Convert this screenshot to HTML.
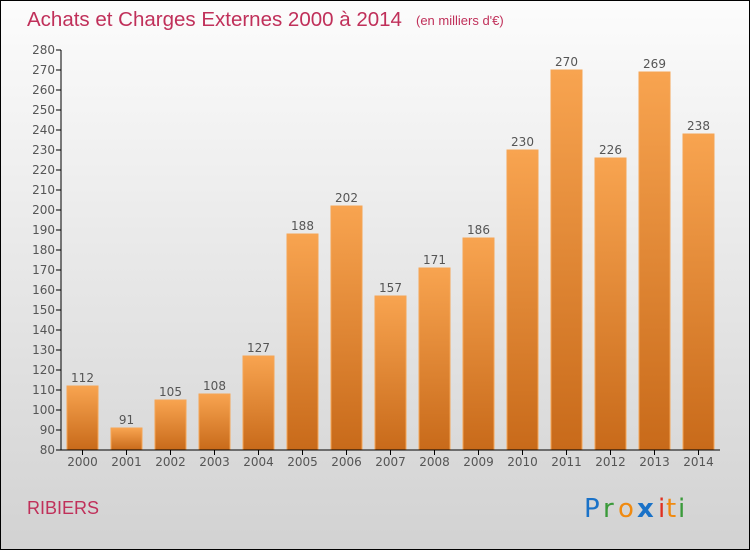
<!DOCTYPE html>
<html><head><meta charset="utf-8"><style>
html,body{margin:0;padding:0}
body{width:750px;height:550px;overflow:hidden;font-family:"DejaVu Sans","Liberation Sans",sans-serif}
#wrap{position:relative;width:748px;height:548px;border:1px solid #000;background:linear-gradient(#fcfcfc,#d2d2d2)}
</style></head><body>
<div id="wrap">
<svg width="748" height="548" viewBox="1 1 748 548" style="position:absolute;left:0;top:0">
<defs><linearGradient id="bg" x1="0" y1="0" x2="0" y2="1"><stop offset="0" stop-color="#f8a450"/><stop offset="1" stop-color="#c86a1a"/></linearGradient></defs>
<text x="27" y="26" font-size="20.5" fill="#c0305a" font-family="Liberation Sans, sans-serif">Achats et Charges Externes 2000 à 2014</text>
<text x="416" y="25" font-size="13" fill="#c0305a" font-family="Liberation Sans, sans-serif">(en milliers d'€)</text>
<g id="plot"></g>
<text x="27" y="514" font-size="18" fill="#c0305a" font-family="Liberation Sans, sans-serif">RIBIERS</text>
<g font-family="DejaVu Sans, sans-serif" font-size="26">
<text x="584" y="517" fill="#1a72c8">P</text><text x="603" y="517" fill="#3a9a3a">r</text><text x="618" y="517" fill="#f08a10">o</text><text x="637" y="517" fill="#1a72c8" font-weight="bold">x</text><text x="658" y="517" fill="#e03020">i</text><text x="666" y="517" fill="#f08a10">t</text><text x="678" y="517" fill="#3a9a3a">i</text>
</g>
</svg>
</div>
<script>
const years=["2000","2001","2002","2003","2004","2005","2006","2007","2008","2009","2010","2011","2012","2013","2014"];
const values=[112,91,105,108,127,188,202,157,171,186,230,270,226,269,238];
const ticks=[80,90,100,110,120,130,140,150,160,170,180,190,200,210,220,230,240,250,260,270,280];
const NS="http://www.w3.org/2000/svg";
const g=document.getElementById('plot');
const y=v=>450-(v-80)*2;
const x=i=>82.5+i*44;
function mk(t,a,txt){const e=document.createElementNS(NS,t);for(const k in a)e.setAttribute(k,a[k]);if(txt!==undefined)e.textContent=txt;g.appendChild(e);return e;}
values.forEach((v,i)=>{
 const r=mk('rect',{x:x(i)-15.5,y:y(v),width:31,height:450-y(v),fill:'url(#bg)',stroke:'#f5a555','stroke-width':1});
 
 
 const l=mk('text',{x:x(i),y:y(v)-4,'text-anchor':'middle','font-size':12,fill:'#555'},String(v));
 
 
 const xl=mk('text',{x:x(i),y:466,'text-anchor':'middle','font-size':12,fill:'#555'},years[i]);
 
 
 mk('line',{x1:x(i),x2:x(i),y1:450,y2:455,stroke:'#000'});
});
ticks.forEach(t=>{
 mk('line',{x1:56,x2:61,y1:y(t),y2:y(t),stroke:'#000'});
 const tl=mk('text',{x:55,y:y(t)+4,'text-anchor':'end','font-size':12,fill:'#555'},String(t));
 
 
});
const ya=mk('line',{x1:61,x2:61,y1:50,y2:450,stroke:'#000'});


const xa=mk('line',{x1:61,x2:720,y1:450,y2:450,stroke:'#000'});


</script>
</body></html>
